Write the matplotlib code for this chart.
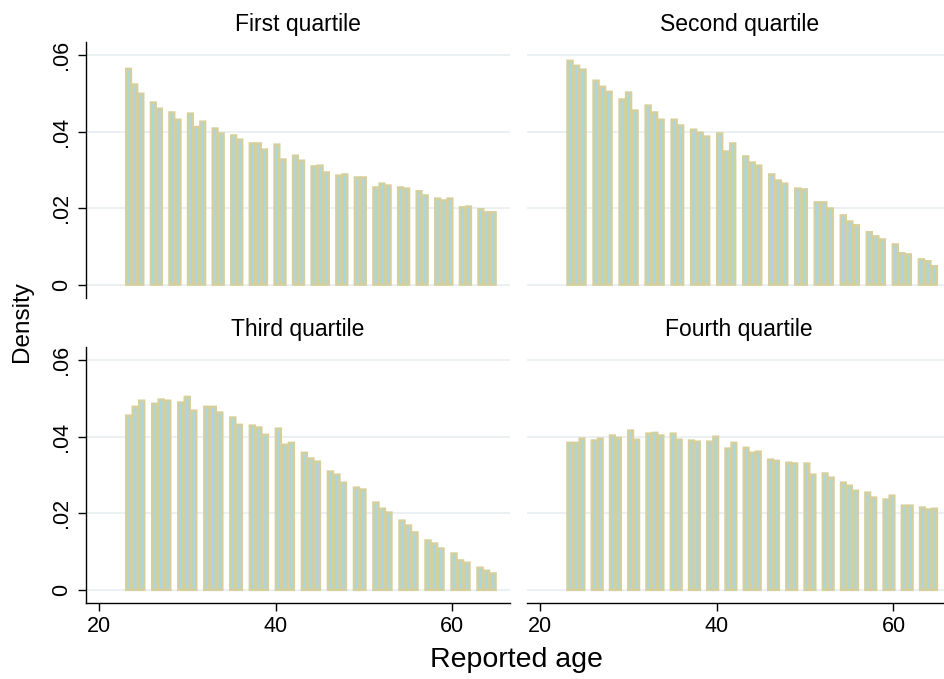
import numpy as np
import matplotlib.pyplot as plt

# reported ages, one bar per age
ages = np.arange(23, 66)

titles = ["First quartile", "Second quartile", "Third quartile", "Fourth quartile"]

q1 = [0.0564, 0.0523, 0.0499, 0.0476, 0.0460, 0.0450, 0.0431, 0.0447, 0.0412, 0.0426,
      0.0408, 0.0395, 0.0390, 0.0379, 0.0369, 0.0369, 0.0353, 0.0366, 0.0327, 0.0337,
      0.0324, 0.0309, 0.0311, 0.0293, 0.0285, 0.0288, 0.0280, 0.0280, 0.0254, 0.0264,
      0.0259, 0.0254, 0.0251, 0.0244, 0.0233, 0.0225, 0.0220, 0.0225, 0.0202, 0.0204,
      0.0197, 0.0189, 0.0189]
q2 = [0.0585, 0.0572, 0.0562, 0.0533, 0.0517, 0.0504, 0.0484, 0.0502, 0.0455, 0.0468,
      0.0450, 0.0431, 0.0431, 0.0416, 0.0405, 0.0397, 0.0387, 0.0395, 0.0348, 0.0369,
      0.0335, 0.0319, 0.0311, 0.0288, 0.0272, 0.0264, 0.0251, 0.0249, 0.0215, 0.0215,
      0.0199, 0.0181, 0.0165, 0.0155, 0.0137, 0.0126, 0.0118, 0.0105, 0.0082, 0.0079,
      0.0066, 0.0061, 0.0048]
q3 = [0.0455, 0.0478, 0.0494, 0.0486, 0.0497, 0.0494, 0.0489, 0.0504, 0.0468, 0.0478,
      0.0478, 0.0463, 0.0450, 0.0431, 0.0429, 0.0424, 0.0405, 0.0421, 0.0379, 0.0384,
      0.0358, 0.0343, 0.0335, 0.0309, 0.0301, 0.0280, 0.0267, 0.0262, 0.0228, 0.0212,
      0.0202, 0.0181, 0.0168, 0.0150, 0.0129, 0.0121, 0.0108, 0.0095, 0.0077, 0.0071,
      0.0058, 0.0050, 0.0043]
q4 = [0.0384, 0.0384, 0.0395, 0.0390, 0.0395, 0.0403, 0.0397, 0.0416, 0.0392, 0.0408,
      0.0410, 0.0403, 0.0408, 0.0392, 0.0390, 0.0387, 0.0387, 0.0400, 0.0369, 0.0384,
      0.0371, 0.0358, 0.0361, 0.0340, 0.0337, 0.0332, 0.0330, 0.0330, 0.0301, 0.0304,
      0.0293, 0.0280, 0.0272, 0.0259, 0.0254, 0.0241, 0.0236, 0.0246, 0.0220, 0.0220,
      0.0215, 0.0210, 0.0212]
densities = [q1, q2, q3, q4]

# number of histogram bins used in each panel (empty bins give the gaps)
nbins = [60, 57, 57, 61]

yticks = [0, 0.02, 0.04, 0.06]
ytick_labels = ["0", ".02", ".04", ".06"]
xticks = [20, 40, 60]

plt.rcParams['font.family'] = ['Liberation Sans', 'DejaVu Sans']

fill = '#acd6dc'
edge = '#d4cf9c'
grid = '#e8eef1'

W, H = 944, 679
fig = plt.figure(figsize=(W / 100, H / 100), dpi=100)

# panel boxes in pixels: left, top, width, height
boxes = [(86, 41.7, 424, 256.3), (527.3, 41.7, 424, 256.3),
         (86, 346.7, 424, 256.6), (527.3, 346.7, 424, 256.6)]

for i in range(4):
    x0, y0, bw, bh = boxes[i]
    ax = fig.add_axes([x0 / W, 1 - (y0 + bh) / H, bw / W, bh / H])

    lo, hi = ages.min(), ages.max()
    k = nbins[i]
    binw = (hi - lo) / k
    idx = np.minimum((ages - lo) * k // (hi - lo), k - 1)
    centers = lo + (idx + 0.5) * binw
    ax.bar(centers, densities[i], width=binw * 0.77, color=fill,
           edgecolor=edge, linewidth=1.75, zorder=2, snap=False)

    ax.set_xlim(18.53, 66.55)
    ax.set_ylim(-0.0035, 0.0635)
    ax.set_yticks(yticks)
    ax.set_yticklabels(ytick_labels)
    ax.set_xticks(xticks)
    ax.yaxis.grid(True, color=grid, linewidth=1.2)
    ax.set_axisbelow(True)
    ax.set_title(titles[i], fontsize=16.5, pad=8)

    for s in ['top', 'right']:
        ax.spines[s].set_visible(False)
    ax.spines['left'].set_linewidth(1.0)
    ax.spines['bottom'].set_linewidth(1.0)

    ax.tick_params(axis='y', length=6, width=1.0, labelsize=15.5, labelrotation=90, pad=4)
    ax.tick_params(axis='x', length=5.5, width=1.0, labelsize=15.5, pad=4)
    for lab in ax.get_yticklabels():
        lab.set_va('center')

    if i < 2:
        ax.spines['bottom'].set_visible(False)
        ax.tick_params(axis='x', bottom=False, labelbottom=False)
    if i % 2 == 1:
        ax.spines['left'].set_visible(False)
        ax.tick_params(axis='y', left=False, labelleft=False)

fig.text(516 / W, 1 - 660 / H, "Reported age", ha='center', va='center', fontsize=20.5)
fig.text(22 / W, 1 - 322 / H, "Density", rotation=90, ha='center', va='center', fontsize=17.5)

fig.savefig("out.png", dpi=100)
